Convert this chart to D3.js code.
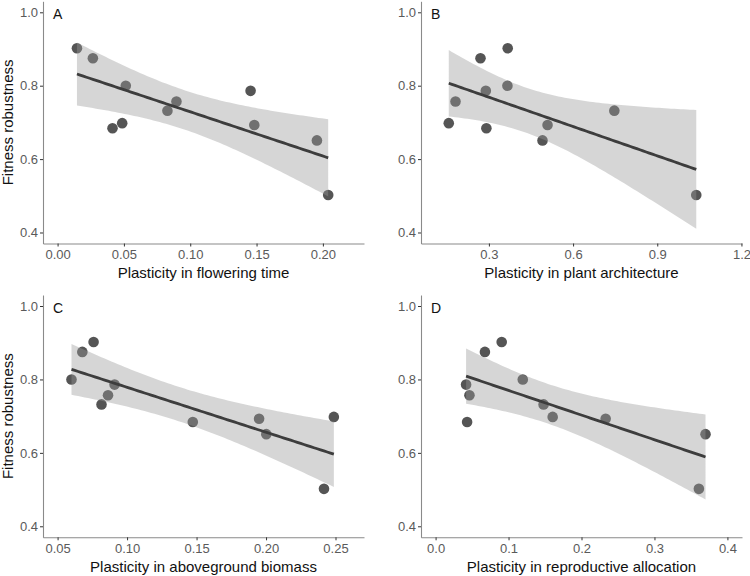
<!DOCTYPE html>
<html>
<head>
<meta charset="utf-8">
<script src="https://cdn.jsdelivr.net/npm/d3@7"></script>
<style>
body { margin: 0; background: #fff; }
svg { display: block; font-family: "Liberation Sans", Arial, sans-serif; }
</style>
</head>
<body>
<svg id="chart" width="750" height="576"></svg>
<script>
// fitness robustness of the 11 genotypes (same order in every panel)
const robustness = [0.902, 0.875, 0.800, 0.786, 0.757, 0.732, 0.698, 0.693, 0.684, 0.651, 0.502]

// plasticity values per trait
const flowering = [0.0146, 0.0266, 0.0514, 0.1455, 0.0896, 0.0828, 0.0487, 0.1483, 0.0414, 0.1955, 0.204]
const architecture = [0.367, 0.270, 0.366, 0.289, 0.181, 0.747, 0.157, 0.509, 0.291, 0.491, 1.039]
const biomass = [0.0759, 0.0678, 0.060, 0.091, 0.0863, 0.0816, 0.2488, 0.195, 0.1473, 0.2002, 0.2417]
const allocation = [0.0906, 0.0676, 0.1195, 0.0418, 0.0464, 0.148, 0.1605, 0.2331, 0.0432, 0.370, 0.3609]

// axis limits and ticks
const yLim = [0.4, 1.0]
const yTicks = [0.4, 0.6, 0.8, 1.0]
const xLimA = [0, 0.22], xTicksA = [0, 0.05, 0.10, 0.15, 0.20]
const xLimB = [0.11, 1.15], xTicksB = [0.3, 0.6, 0.9, 1.2]
const xLimC = [0.05, 0.26], xTicksC = [0.05, 0.10, 0.15, 0.20, 0.25]
const xLimD = [0, 0.4], xTicksD = [0, 0.1, 0.2, 0.3, 0.4]

const panels = [
	{ label: "A", x: flowering, lim: xLimA, ticks: xTicksA, fmt: ".2f", title: "Plasticity in flowering time", col: 0, row: 0 },
	{ label: "B", x: architecture, lim: xLimB, ticks: xTicksB, fmt: ".1f", title: "Plasticity in plant architecture", col: 1, row: 0 },
	{ label: "C", x: biomass, lim: xLimC, ticks: xTicksC, fmt: ".2f", title: "Plasticity in aboveground biomass", col: 0, row: 1 },
	{ label: "D", x: allocation, lim: xLimD, ticks: xTicksD, fmt: ".1f", title: "Plasticity in reproductive allocation", col: 1, row: 1 },
]

const cols = [[43, 364], [421, 742]]
const rows = [[1.3, 243.5], [295, 537.3]]

// ggplot-like 5% expansion
const expand = lim => {
	const d = (lim[1] - lim[0]) * 0.05
	return [lim[0] - d, lim[1] + d]
}

// linear model with 95% confidence band
const fitLm = function(xs, ys){
	const n = xs.length
	const mx = d3.mean(xs), my = d3.mean(ys)
	let sxx = 0, sxy = 0
	xs.forEach((x, i) => { sxx += (x - mx) ** 2; sxy += (x - mx) * (ys[i] - my) })
	const b = sxy / sxx, a = my - b * mx
	const sse = d3.sum(xs, (x, i) => (ys[i] - a - b * x) ** 2)
	const s = Math.sqrt(sse / (n - 2))
	const t = 2.262157 // qt(0.975, 9)
	const [x0, x1] = d3.extent(xs)
	return d3.range(80).map(i => {
		const x = x0 + (x1 - x0) * i / 79
		const fit = a + b * x
		const se = s * Math.sqrt(1 / n + (x - mx) ** 2 / sxx)
		return { x, fit, lo: fit - t * se, hi: fit + t * se }
	})
}

const svg = d3.select("#chart")

panels.forEach(p => {
	const xs = d3.scaleLinear().domain(expand(p.lim)).range(cols[p.col])
	const ys = d3.scaleLinear().domain(expand(yLim)).range([rows[p.row][1], rows[p.row][0]])
	const g = svg.append("g")
	const pts = p.x.map((x, i) => ({ x, y: robustness[i] }))
	const fit = fitLm(p.x, robustness)

	// points first, ribbon drawn over them like geom_smooth
	g.selectAll("circle").data(pts).enter()
		.append("circle")
		.attr("cx", d => xs(d.x))
		.attr("cy", d => ys(d.y))
		.attr("r", 5.3)
		.style("fill", "#555")

	g.append("path")
		.datum(fit)
		.attr("d", d3.area().x(d => xs(d.x)).y0(d => ys(d.lo)).y1(d => ys(d.hi)))
		.style("fill", "#999")
		.style("fill-opacity", 0.4)

	g.append("path")
		.datum(fit)
		.attr("d", d3.line().x(d => xs(d.x)).y(d => ys(d.fit)))
		.style("fill", "none")
		.style("stroke", "#3d3d3d")
		.style("stroke-width", 2.8)

	const xAxis = g.append("g")
		.attr("transform", `translate(0,${rows[p.row][1]})`)
		.call(d3.axisBottom(xs).tickValues(p.ticks).tickFormat(d3.format(p.fmt)).tickSize(3).tickSizeOuter(0).tickPadding(3))
	const yAxis = g.append("g")
		.attr("transform", `translate(${cols[p.col][0]},0)`)
		.call(d3.axisLeft(ys).tickValues(yTicks).tickFormat(d3.format(".1f")).tickSize(3).tickSizeOuter(0).tickPadding(2))

	;[xAxis, yAxis].forEach(ax => {
		ax.select(".domain").style("stroke", "#8a8a8a").style("stroke-width", 1.1)
		ax.selectAll(".tick line").style("stroke", "#333")
		ax.selectAll(".tick text").style("fill", "#5a5a5a").style("font-size", "13px")
	})

	g.append("text")
		.attr("x", (cols[p.col][0] + cols[p.col][1]) / 2)
		.attr("y", rows[p.row][1] + 34.5)
		.attr("text-anchor", "middle")
		.style("font-size", "15px")
		.style("fill", "#111")
		.text(p.title)

	g.append("text")
		.attr("x", cols[p.col][0] + 10)
		.attr("y", ys(yLim[1]) + 6.5)
		.style("font-size", "14px")
		.style("fill", "#111")
		.text(p.label)

	if(p.col === 0){
		g.append("text")
			.attr("transform", `translate(13,${ys(0.7)}) rotate(-90)`)
			.attr("text-anchor", "middle")
			.style("font-size", "15px")
			.style("fill", "#111")
			.text("Fitness robustness")
	}
})
</script>
</body>
</html>
